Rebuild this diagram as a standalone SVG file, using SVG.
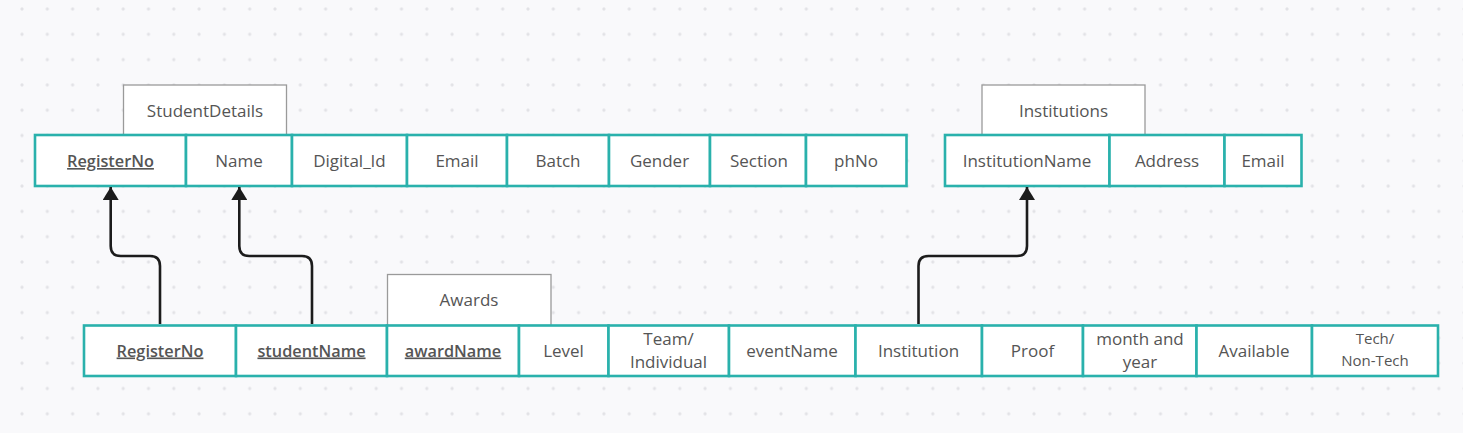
<svg xmlns="http://www.w3.org/2000/svg" width="1463" height="433" viewBox="0 0 1463 433">
<defs>
<pattern id="dots" patternUnits="userSpaceOnUse" x="9.35" y="-3.65" width="25.3" height="25.3">
<circle cx="12.65" cy="12.65" r="1.6" fill="#e2e2e6"/>
</pattern>
<marker id="arr" viewBox="0 0 13 16" refX="13" refY="8" markerWidth="13" markerHeight="16" markerUnits="userSpaceOnUse" orient="auto">
<path d="M0,0 L13,8 L0,16 z" fill="#1c1c1c"/>
</marker>
<style>
.cell{fill:#ffffff;stroke:#2ab1ac;stroke-width:2.6}
.title{fill:#ffffff;stroke:#9a9a9a;stroke-width:1.3}
text{font-family:"Open Sans","Noto Sans","Liberation Sans",sans-serif;font-size:17px;fill:#555555;text-anchor:middle}
.key{font-weight:600;font-size:16.3px;text-decoration:underline}
.sm{font-size:15px}
.conn{fill:none;stroke:#1c1c1c;stroke-width:2.6}
</style>
</defs>
<rect width="1463" height="433" fill="#f9f9fb"/>
<rect width="1463" height="433" fill="url(#dots)"/>

<g id="StudentDetails">
<rect class="title" x="123.5" y="85" width="163" height="50"/>
<text x="205" y="116.5">StudentDetails</text>
<rect class="cell" x="35" y="135" width="151" height="51"/>
<rect class="cell" x="186" y="135" width="106" height="51"/>
<rect class="cell" x="292" y="135" width="115" height="51"/>
<rect class="cell" x="407" y="135" width="100" height="51"/>
<rect class="cell" x="507" y="135" width="102" height="51"/>
<rect class="cell" x="609" y="135" width="101" height="51"/>
<rect class="cell" x="710" y="135" width="96" height="51"/>
<rect class="cell" x="806" y="135" width="100.5" height="51"/>
<text class="key" x="110.5" y="167">RegisterNo</text>
<text x="239" y="167">Name</text>
<text x="349.5" y="167">Digital_Id</text>
<text x="457" y="167">Email</text>
<text x="558" y="167">Batch</text>
<text x="659.5" y="167">Gender</text>
<text x="759" y="167">Section</text>
<text x="856" y="167">phNo</text>
</g>

<g id="Institutions">
<rect class="title" x="982" y="85" width="163" height="50"/>
<text x="1063.5" y="116.5">Institutions</text>
<rect class="cell" x="945" y="135" width="164.5" height="51"/>
<rect class="cell" x="1109.5" y="135" width="115" height="51"/>
<rect class="cell" x="1224.5" y="135" width="77" height="51"/>
<text x="1027" y="167">InstitutionName</text>
<text x="1167" y="167">Address</text>
<text x="1263" y="167">Email</text>
</g>

<g id="Awards">
<rect class="title" x="387.5" y="274.5" width="163.5" height="51"/>
<text x="469" y="306">Awards</text>
<rect class="cell" x="84" y="325.5" width="152" height="50.5"/>
<rect class="cell" x="236" y="325.5" width="151" height="50.5"/>
<rect class="cell" x="387" y="325.5" width="132" height="50.5"/>
<rect class="cell" x="519" y="325.5" width="89.5" height="50.5"/>
<rect class="cell" x="608.5" y="325.5" width="120.5" height="50.5"/>
<rect class="cell" x="729" y="325.5" width="126.5" height="50.5"/>
<rect class="cell" x="855.5" y="325.5" width="126.5" height="50.5"/>
<rect class="cell" x="982" y="325.5" width="101" height="50.5"/>
<rect class="cell" x="1083" y="325.5" width="113.5" height="50.5"/>
<rect class="cell" x="1196.5" y="325.5" width="115.5" height="50.5"/>
<rect class="cell" x="1312" y="325.5" width="126" height="50.5"/>
<text class="key" x="160" y="356.5">RegisterNo</text>
<text class="key" x="311.5" y="356.5">studentName</text>
<text class="key" x="453" y="356.5">awardName</text>
<text x="563.5" y="356.5">Level</text>
<text x="668.5" y="345">Team/</text>
<text x="668.5" y="367.5">Individual</text>
<text x="792" y="356.5">eventName</text>
<text x="918.5" y="356.5">Institution</text>
<text x="1032.5" y="356.5">Proof</text>
<text x="1140" y="345">month and</text>
<text x="1140" y="367.5">year</text>
<text x="1254" y="356.5">Available</text>
<text class="sm" x="1375" y="344">Tech/</text>
<text class="sm" x="1375" y="365.5">Non-Tech</text>
</g>

<g id="connectors">
<path class="conn" d="M160,324 V266 Q160,256 150,256 H120.7 Q110.7,256 110.7,246 V187" marker-end="url(#arr)"/>
<path class="conn" d="M312,324 V266 Q312,256 302,256 H249.3 Q239.3,256 239.3,246 V187" marker-end="url(#arr)"/>
<path class="conn" d="M918.5,324 V266 Q918.5,256 928.5,256 H1017 Q1027,256 1027,246 V187" marker-end="url(#arr)"/>
</g>
</svg>
